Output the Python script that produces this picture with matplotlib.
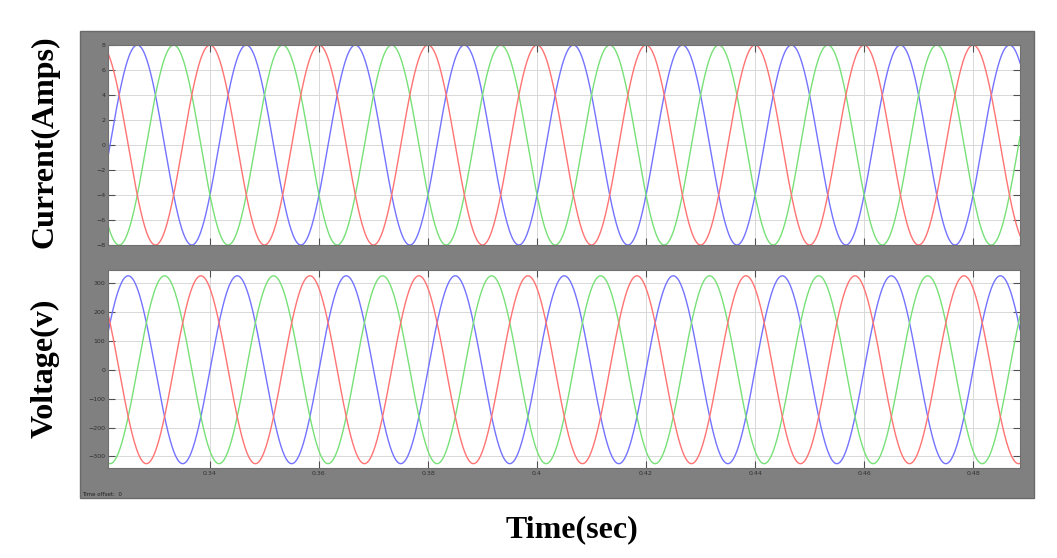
import numpy as np
import matplotlib
matplotlib.use("Agg")
import matplotlib.pyplot as plt
from matplotlib.patches import Rectangle

# readings from the scope picture (three-phase, 50 Hz)
freq_hz = 50.0
t_start, t_end = 0.3213, 0.4886
current_amp = 8.0
voltage_amp = 325.0
phase_colors = ['#7373ff', '#78e078', '#ff7373']      # blue, green, red
voltage_phase_deg = [0.0, -120.0, 120.0]
current_phase_deg = [-30.0, -150.0, 90.0]

current_ticks = [-8, -6, -4, -2, 0, 2, 4, 6, 8]
voltage_ticks = [-300, -200, -100, 0, 100, 200, 300]
time_ticks = [0.34, 0.36, 0.38, 0.40, 0.42, 0.44, 0.46, 0.48]
time_labels = ['0.34', '0.36', '0.38', '0.4', '0.42', '0.44', '0.46', '0.48']

t = np.linspace(t_start, t_end, 4000)
w = 2 * np.pi * freq_hz

fig = plt.figure(figsize=(10.57, 5.58), dpi=100)
fig.patch.set_facecolor('white')

# grey scope frame, behind the axes
fig.patches.append(Rectangle((0.0757, 0.1075), 0.9025, 0.837, transform=fig.transFigure,
                             facecolor='#808080', edgecolor='#6a6a6a', lw=1.0, zorder=-5))

ax1 = fig.add_axes([0.1022, 0.5609, 0.8628, 0.3584], zorder=2)
ax2 = fig.add_axes([0.1022, 0.1613, 0.8628, 0.3548], zorder=2)

for ph, c in zip(current_phase_deg, phase_colors):
    ax1.plot(t, current_amp * np.sin(w * t + np.radians(ph)), color=c, lw=1.0)
for ph, c in zip(voltage_phase_deg, phase_colors):
    ax2.plot(t, voltage_amp * np.sin(w * t + np.radians(ph)), color=c, lw=1.0)

ax1.set_ylim(-8, 8)
ax1.set_yticks(current_ticks)
ax2.set_ylim(-340, 345)
ax2.set_yticks(voltage_ticks)

for ax in (ax1, ax2):
    ax.set_facecolor('white')
    ax.set_xlim(t_start, t_end)
    ax.set_xticks(time_ticks)
    ax.grid(True, color='#d8d8d8', lw=0.7)
    ax.tick_params(direction='in', length=5, width=0.8, color='#505050',
                   labelsize=4.5, labelcolor='#303030', top=True, right=True, pad=2)
    for s in ax.spines.values():
        s.set_color('#707070')
        s.set_linewidth(0.8)
ax1.set_xticklabels([])
ax2.set_xticklabels(time_labels)

serif = ['Liberation Serif', 'DejaVu Serif']
fig.text(0.0426, 0.7455, 'Current(Amps)', rotation=90, ha='center', va='center',
         fontsize=23, fontweight='bold', family=serif)
fig.text(0.0426, 0.3405, 'Voltage(v)', rotation=90, ha='center', va='center',
         fontsize=23, fontweight='bold', family=serif)
fig.text(0.5412, 0.05, 'Time(sec)', ha='center', va='center',
         fontsize=23, fontweight='bold', family=serif)
fig.text(0.078, 0.112, 'Time offset:  0', fontsize=4, color='#202020')

fig.savefig('out.png', dpi=100)
